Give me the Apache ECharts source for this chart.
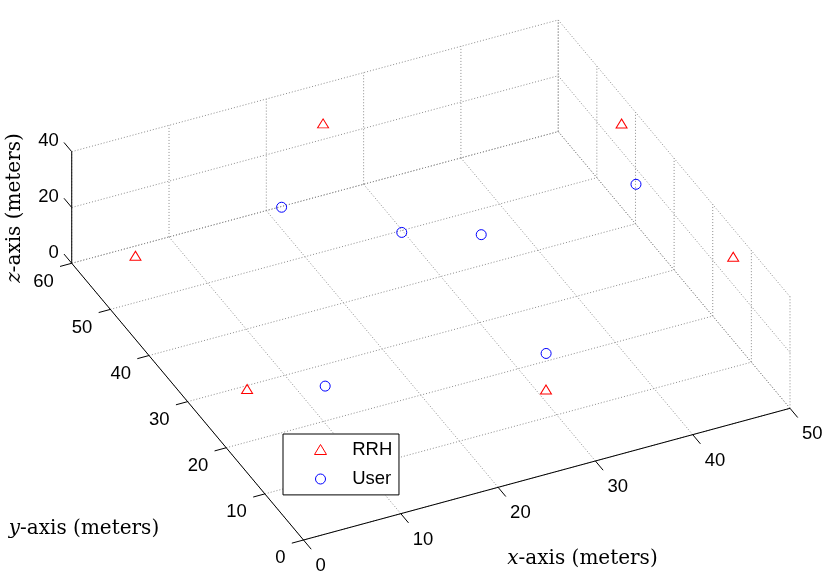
<!DOCTYPE html>
<html><head><meta charset="utf-8">
<script src="https://cdn.jsdelivr.net/npm/echarts@6/dist/echarts.min.js"></script>
<style>html,body{margin:0;padding:0;background:#fff}#c{width:830px;height:585px}</style>
</head><body><div id="c"></div>
<script>
// ---- data ----
const xTicks = [0, 10, 20, 30, 40, 50];
const yTicks = [0, 10, 20, 30, 40, 50, 60];
const zTicks = [0, 20, 40];
const rrhX = [0, 25, 50, 50, 0, 25];
const rrhY = [43.5, 57.9, 43.6, 14.7, 14.6, 0.2];
const rrhZ = [30, 30, 30, 30, 30, 30];
const userX = [17.6, 25.9, 32.4, 48.9, 29.5, 8.7];
const userY = [50.0, 39.8, 35.6, 37.1, 11.5, 16.3];
const userZ = [20, 20, 20, 20, 20, 20];
const seriesNames = ['RRH', 'User'];
const axisTitleVar = ['x', 'y', 'z'];
const axisTitleRest = '-axis (meters)';

// ---- view: orthographic projection of the 3D box onto the page ----
const O = [303.5, 540], EX = [9.73, -2.634], EY = [-3.863, -4.612], EZ = [0, -2.79];
function proj(x, y, z) {
  return [O[0] + x * EX[0] + y * EY[0] + z * EZ[0], O[1] + x * EX[1] + y * EY[1] + z * EZ[1]];
}
const X0 = xTicks[0], X1 = xTicks[xTicks.length - 1];
const Y0 = yTicks[0], Y1 = yTicks[yTicks.length - 1];
const Z0 = zTicks[0], Z1 = zTicks[zTicks.length - 1];

const gridSegs = [];
xTicks.forEach(x => { gridSegs.push([x, Y0, Z0, x, Y1, Z0]); gridSegs.push([x, Y1, Z0, x, Y1, Z1]); });
yTicks.forEach(y => { gridSegs.push([X0, y, Z0, X1, y, Z0]); gridSegs.push([X1, y, Z0, X1, y, Z1]); });
zTicks.forEach(z => { gridSegs.push([X0, Y1, z, X1, Y1, z]); gridSegs.push([X1, Y0, z, X1, Y1, z]); });

const axisSegs = [
  [X0, Y0, Z0, X1, Y0, Z0],
  [X0, Y0, Z0, X0, Y1, Z0],
  [X0, Y1, Z0, X0, Y1, Z1]
];
xTicks.forEach(x => axisSegs.push([x, Y0, Z0, x, Y0 - 2, Z0]));
yTicks.forEach(y => axisSegs.push([X0, y, Z0, X0 - 1.2, y, Z0]));
zTicks.forEach(z => axisSegs.push([X0, Y1, z, X0, Y1 + 2, z]));

const FONT = '"Liberation Sans", Arial, sans-serif';
const SERIF = '"DejaVu Serif", serif';

function segSeries(segs, stroke, dash) {
  return {
    type: 'custom', coordinateSystem: 'cartesian2d', silent: true,
    dimensions: ['a', 'b', 'c', 'd', 'e', 'f'], encode: { x: 0, y: 1 },
    data: segs,
    renderItem: function (params, api) {
      const p1 = api.coord(proj(api.value(0), api.value(1), api.value(2)));
      const p2 = api.coord(proj(api.value(3), api.value(4), api.value(5)));
      return { type: 'line', shape: { x1: p1[0], y1: p1[1], x2: p2[0], y2: p2[1] },
        style: { stroke: stroke, lineWidth: 1, lineDash: dash, fill: null } };
    }
  };
}
function labelSeries(ticks, where, dx, dy, align) {
  return {
    type: 'custom', coordinateSystem: 'cartesian2d', silent: true,
    data: ticks.map(t => [t]), dimensions: ['t'], encode: { x: 0 },
    renderItem: function (params, api) {
      const t = api.value(0);
      const p = api.coord(where(t));
      return { type: 'text', x: p[0] + dx, y: p[1] + dy,
        style: { text: String(t), fill: '#000', fontSize: 18.5, fontFamily: FONT, align: align, verticalAlign: 'middle' } };
    }
  };
}

const chart = echarts.init(document.getElementById('c'));
chart.setOption({
  animation: false,
  backgroundColor: '#fff',
  grid: { left: 0, right: 0, top: 0, bottom: 0 },
  xAxis: { type: 'value', min: 0, max: 830, show: false },
  yAxis: { type: 'value', min: 0, max: 585, inverse: true, show: false },
  legend: {
    orient: 'vertical', left: 283, top: 434,
    padding: [6, 6.7, 6.4, 31],
    itemWidth: 12, itemHeight: 10, itemGap: 10.5,
    backgroundColor: '#fff', borderColor: '#000', borderWidth: 1,
    textStyle: { fontSize: 18.5, fontFamily: FONT, color: '#000', padding: [0, 0, 0, 20.7] },
    selectedMode: false,
    data: [
      { name: seriesNames[0], icon: 'triangle', itemStyle: { color: 'rgba(0,0,0,0)', borderColor: '#ff0000', borderWidth: 1 } },
      { name: seriesNames[1], icon: 'circle', itemStyle: { color: 'rgba(0,0,0,0)', borderColor: '#0000ff', borderWidth: 1 } }
    ]
  },
  graphic: [
    { type: 'text', x: 582.5, y: 559, silent: true,
      style: { text: '{i|' + axisTitleVar[0] + '}' + axisTitleRest, fill: '#000', fontSize: 20, fontFamily: SERIF, align: 'center', verticalAlign: 'middle',
        rich: { i: { fontStyle: 'italic', fontSize: 20, fontFamily: SERIF } } } },
    { type: 'text', x: 84, y: 529, silent: true,
      style: { text: '{i|' + axisTitleVar[1] + '}' + axisTitleRest, fill: '#000', fontSize: 20, fontFamily: SERIF, align: 'center', verticalAlign: 'middle',
        rich: { i: { fontStyle: 'italic', fontSize: 20, fontFamily: SERIF } } } },
    { type: 'text', x: 15, y: 208, rotation: Math.PI / 2, silent: true,
      style: { text: '{i|' + axisTitleVar[2] + '}' + axisTitleRest, fill: '#000', fontSize: 20, fontFamily: SERIF, align: 'center', verticalAlign: 'middle',
        rich: { i: { fontStyle: 'italic', fontSize: 20, fontFamily: SERIF } } } }
  ],
  series: [
    segSeries(gridSegs, '#8c8c8c', [1, 2]),
    segSeries(axisSegs, '#000', null),
    labelSeries(xTicks, t => proj(t, Y0, Z0), 12, 26, 'left'),
    labelSeries(yTicks, t => proj(X0, t, Z0), -18, 18.3, 'right'),
    labelSeries(zTicks, t => proj(X0, Y1, t), -13, -10.7, 'right'),
    {
      name: seriesNames[0], type: 'scatter', symbol: 'triangle', symbolSize: [11, 9],
      itemStyle: { color: 'rgba(0,0,0,0)', borderColor: '#ff0000', borderWidth: 1, opacity: 1 },
      emphasis: { disabled: true }, z: 5,
      data: rrhX.map((x, i) => proj(x, rrhY[i], rrhZ[i]))
    },
    {
      name: seriesNames[1], type: 'scatter', symbol: 'circle', symbolSize: 10,
      itemStyle: { color: 'rgba(0,0,0,0)', borderColor: '#0000ff', borderWidth: 1, opacity: 1 },
      emphasis: { disabled: true }, z: 5,
      data: userX.map((x, i) => proj(x, userY[i], userZ[i]))
    }
  ]
});
</script></body></html>
